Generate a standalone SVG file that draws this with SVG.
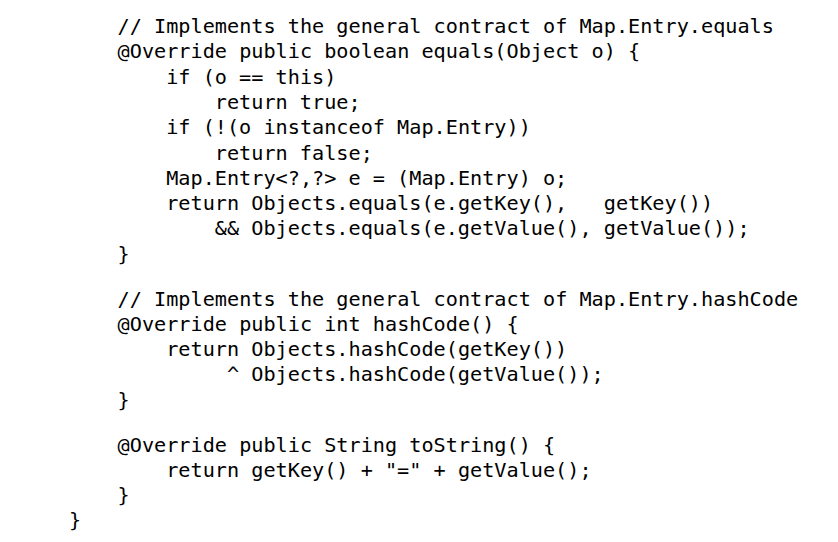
<svg xmlns="http://www.w3.org/2000/svg" width="838" height="542" viewBox="0 0 838 542">
<style>
text{font-family:"DejaVu Sans Mono","Liberation Mono",monospace;font-size:20.2px;fill:#000;white-space:pre}
</style>
<rect width="838" height="542" fill="#fff"/>
<g id="code" xml:space="preserve">
<text x="117.6" y="33">// Implements the general contract of Map.Entry.equals</text>
<text x="117.6" y="58.3">@Override public boolean equals(Object o) {</text>
<text x="166.2" y="83.6">if (o == this)</text>
<text x="214.8" y="108.9">return true;</text>
<text x="166.2" y="134.2">if (!(o instanceof Map.Entry))</text>
<text x="214.8" y="159.5">return false;</text>
<text x="166.2" y="184.8">Map.Entry&lt;?,?&gt; e = (Map.Entry) o;</text>
<text x="166.2" y="210.1">return Objects.equals(e.getKey(),   getKey())</text>
<text x="214.8" y="235.4">&amp;&amp; Objects.equals(e.getValue(), getValue());</text>
<text x="117.6" y="260.7">}</text>
<text x="117.6" y="305.5">// Implements the general contract of Map.Entry.hashCode</text>
<text x="117.6" y="330.8">@Override public int hashCode() {</text>
<text x="166.2" y="356.1">return Objects.hashCode(getKey())</text>
<text x="226.95" y="381.4">^ Objects.hashCode(getValue());</text>
<text x="117.6" y="406.7">}</text>
<text x="117.6" y="451.5">@Override public String toString() {</text>
<text x="166.2" y="476.8">return getKey() + "=" + getValue();</text>
<text x="117.6" y="502.1">}</text>
<text x="69" y="527.4">}</text>
</g>
</svg>
